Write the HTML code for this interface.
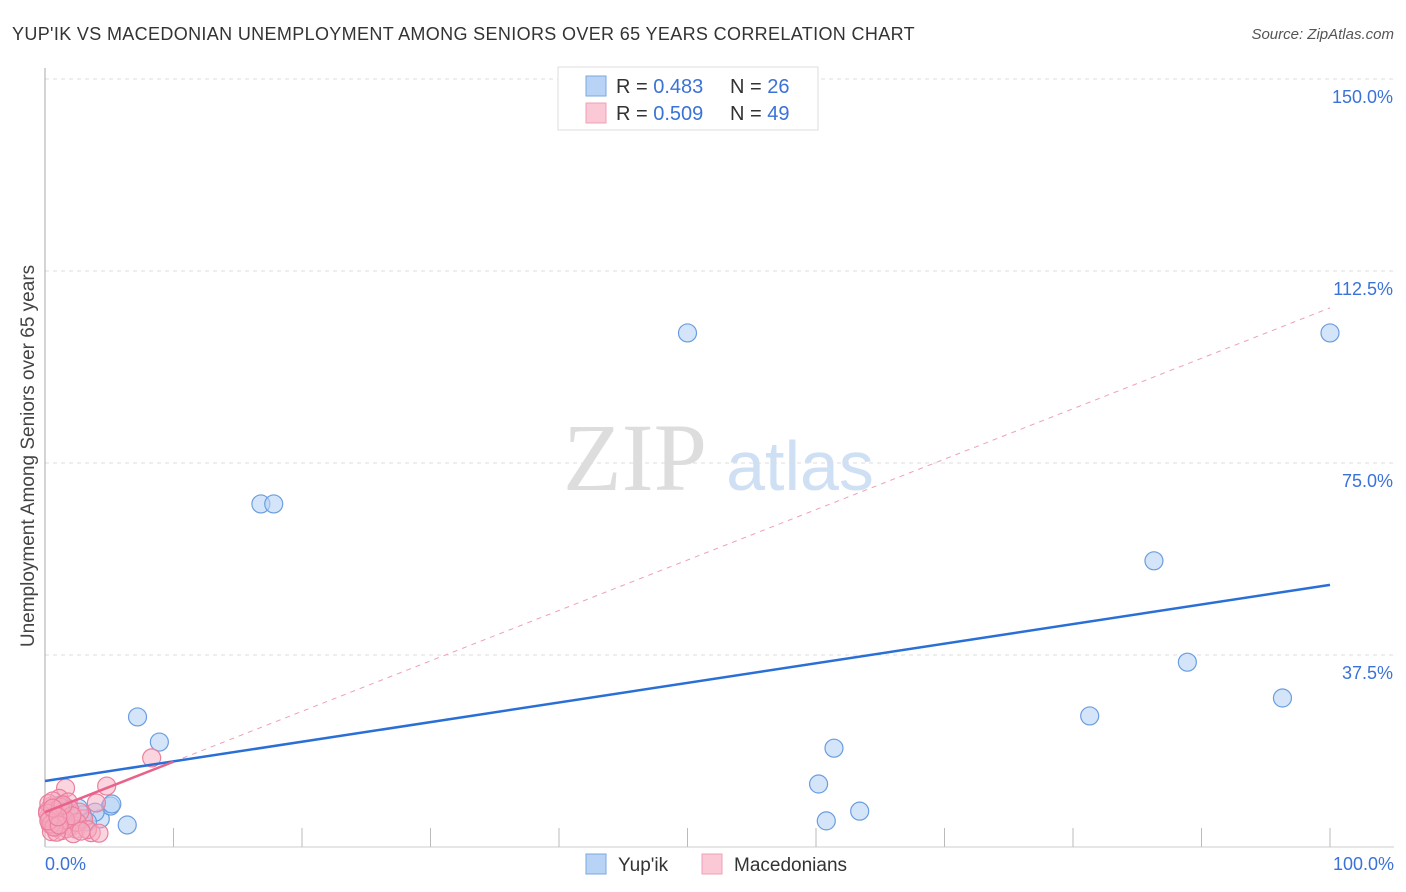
<!DOCTYPE html>
<html><head><meta charset="utf-8"><style>
body{margin:0;background:#fff;font-family:"Liberation Sans",sans-serif;}
svg{display:block}
</style></head><body>
<svg id="chart" width="1406" height="892">
<text x="12" y="40" font-size="18" fill="#333" letter-spacing="0.35">YUP'IK VS MACEDONIAN UNEMPLOYMENT AMONG SENIORS OVER 65 YEARS CORRELATION CHART</text>
<text x="1394" y="39" font-size="15" fill="#555" font-style="italic" text-anchor="end">Source: ZipAtlas.com</text>
<text x="0" y="0" transform="translate(34,456) rotate(-90)" font-size="19" fill="#444" text-anchor="middle">Unemployment Among Seniors over 65 years</text>
<g><text x="635" y="490" font-size="96" fill="#ddd" font-family="Liberation Serif,serif" text-anchor="middle">ZIP</text><text x="800" y="490" font-size="70" fill="#cfe0f5" text-anchor="middle">atlas</text></g>
<g id="grid"></g><g id="axes"></g><g id="lines"></g><g id="pts"></g>
<g>
<rect x="558" y="67" width="260" height="63" fill="#fff" stroke="#ddd"/>
<rect x="586" y="76" width="20" height="20" fill="#b8d3f5" stroke="#7aa8e0"/>
<text x="616" y="93" font-size="20" fill="#333">R = <tspan fill="#3a72d8">0.483</tspan></text>
<text x="730" y="93" font-size="20" fill="#333">N = <tspan fill="#3a72d8">26</tspan></text>
<rect x="586" y="103" width="20" height="20" fill="#fbc9d6" stroke="#eea0b5"/>
<text x="616" y="120" font-size="20" fill="#333">R = <tspan fill="#3a72d8">0.509</tspan></text>
<text x="730" y="120" font-size="20" fill="#333">N = <tspan fill="#3a72d8">49</tspan></text>
</g>
<g>
<rect x="586" y="854" width="20" height="20" fill="#b8d3f5" stroke="#7aa8e0"/>
<text x="618" y="871" font-size="19" fill="#333">Yup'ik</text>
<rect x="702" y="854" width="20" height="20" fill="#fbc9d6" stroke="#eea0b5"/>
<text x="734" y="871" font-size="19" fill="#333">Macedonians</text>
</g>
</svg>
<script>
const yTicks=[150,112.5,75,37.5];
const yTickLabels=["150.0%","112.5%","75.0%","37.5%"];
const xLabels=["0.0%","100.0%"];
const blueX=[50,100,16.8,17.8,86.3,88.9,96.3,81.3,7.2,8.9,61.4,60.2,63.4,60.8,6.4,4.3,5.1,5.2,3.9,2.9,1.2,2.1,3.3,1.3,2.6,1.0];
const blueY=[100.4,100.4,67,67,55.9,36.1,29.1,25.6,25.4,20.5,19.3,12.3,7.0,5.1,4.3,5.5,8.0,8.4,6.8,6.3,8.2,6.6,4.9,5.9,7.6,5.3];
const pinkX=[8.3,4.8,1.6,4.0,0.5,0.8,1.0,1.2,0.3,0.6,1.5,2.0,2.4,0.4,0.9,1.1,1.8,0.2,0.7,1.3,3.0,3.6,2.7,0.5,1.4,0.3,0.8,1.7,2.2,0.6,1.0,0.4,1.9,2.5,3.3,0.2,1.2,0.9,1.6,0.5,0.7,2.1,1.4,0.3,1.1,0.6,2.8,4.2,1.0];
const pinkY=[17.4,11.9,11.5,8.6,8.0,7.2,6.5,5.8,6.0,5.2,4.6,4.0,3.5,4.4,3.8,9.5,8.8,7.0,4.9,3.2,5.5,2.8,6.8,3.0,5.0,8.5,6.2,3.6,2.6,9.0,4.2,5.6,7.4,4.8,3.4,6.6,7.8,2.9,5.3,4.5,3.9,6.1,8.2,5.1,4.3,7.6,3.1,2.7,5.9];
const blueLine=[12.9,51.2];
const pinkLine=[6.8,105.3];
const X=v=>45+v*12.85, Y=v=>847-v*5.12;
const NS="http://www.w3.org/2000/svg";
function mk(p,t,a){const e=document.createElementNS(NS,t);for(const k in a)e.setAttribute(k,a[k]);p.appendChild(e);return e;}
const grid=document.getElementById('grid'),axes=document.getElementById('axes'),lines=document.getElementById('lines'),pts=document.getElementById('pts');
yTicks.forEach((t,i)=>{
 const l=mk(grid,'line',{x1:45,x2:1394,y1:Y(t),y2:Y(t),stroke:'#ddd','stroke-dasharray':'4,4'});
 
 
 const tx=mk(grid,'text',{x:1393,y:Y(t)+24,'font-size':18,fill:'#3a72d8','text-anchor':'end'});tx.textContent=yTickLabels[i];
 
 
});
mk(axes,'line',{x1:45,x2:45,y1:68,y2:847,stroke:'#aaa'});
mk(axes,'line',{x1:45,x2:1394,y1:847,y2:847,stroke:'#ccc'});
for(let i=1;i<=10;i++){const t=mk(axes,'line',{x1:X(i*10),x2:X(i*10),y1:828,y2:847,stroke:'#bbb'});
 
 }
let a=mk(axes,'text',{x:45,y:870,'font-size':18,fill:'#3a72d8'});a.textContent=xLabels[0];


a=mk(axes,'text',{x:1394,y:870,'font-size':18,fill:'#3a72d8','text-anchor':'end'});a.textContent=xLabels[1];


let ln=mk(lines,'line',{x1:X(10),y1:Y(pinkLine[0]+(pinkLine[1]-pinkLine[0])*0.1),x2:X(100),y2:Y(pinkLine[1]),stroke:'#eea0b5','stroke-dasharray':'5,5','stroke-width':1});


blueX.forEach((x,i)=>{const c=mk(pts,'circle',{cx:X(x),cy:Y(blueY[i]),r:9,fill:'rgba(184,211,245,0.6)',stroke:'#6a9de0','stroke-width':1.2});
 
 });
pinkX.forEach((x,i)=>{const c=mk(pts,'circle',{cx:X(x),cy:Y(pinkY[i]),r:9,fill:'rgba(246,170,192,0.5)',stroke:'#ea7f9e','stroke-width':1.2});
 
 });
ln=mk(pts,'line',{x1:X(0),y1:Y(blueLine[0]),x2:X(100),y2:Y(blueLine[1]),stroke:'#2a6fd6','stroke-width':2.5});


ln=mk(pts,'line',{x1:X(0),y1:Y(pinkLine[0]),x2:X(10),y2:Y(pinkLine[0]+(pinkLine[1]-pinkLine[0])*0.1),stroke:'#e8628a','stroke-width':2.5});


</script>
</body></html>
